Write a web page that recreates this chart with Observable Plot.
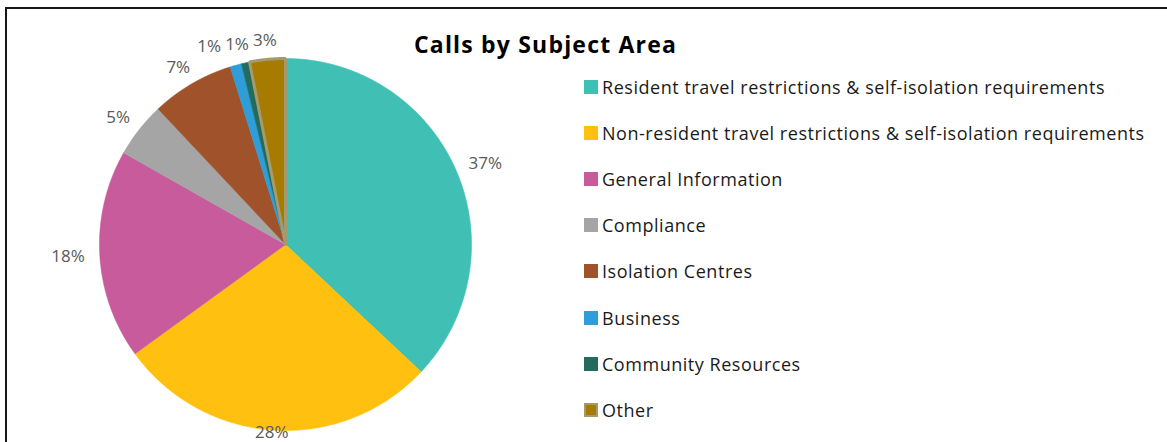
<!DOCTYPE html>
<html><head><meta charset="utf-8">
<script src="https://cdn.jsdelivr.net/npm/d3@7"></script>
<script src="https://cdn.jsdelivr.net/npm/@observablehq/plot@0.6"></script>
<style>
body{margin:0;background:#fff;}
#wrap{position:relative;width:1167px;height:442px;overflow:hidden;font-family:"Open Sans",sans-serif;background:#fff;}
#frame{position:absolute;left:5px;top:7px;width:1200px;height:500px;border-top:2px solid #161616;border-left:2px solid #161616;pointer-events:none;}
#title{position:absolute;left:414px;top:33px;font-weight:bold;font-size:23px;color:#000;white-space:nowrap;line-height:1;}
#legend{position:absolute;left:0;top:0;}
.row{position:absolute;display:flex;align-items:center;white-space:nowrap;font-size:18px;color:#1a1a1a;line-height:1;}
.sw{width:14px;height:14px;margin-right:4px;box-sizing:border-box;flex:none;}
#chart{position:absolute;left:0;top:0;}
</style>
</head><body>
<div id="wrap"><div id="chart"></div><div id="title">Calls by Subject Area</div><div id="legend"></div><div id="frame"></div></div>
<script>
const categories = [
  "Resident travel restrictions & self-isolation requirements",
  "Non-resident travel restrictions & self-isolation requirements",
  "General Information",
  "Compliance",
  "Isolation Centres",
  "Business",
  "Community Resources",
  "Other"
];
const shares = [37.0, 28.0, 18.2, 4.8, 7.2, 1.0, 0.7, 3.1];
const shareLabels = ["37%", "28%", "18%", "5%", "7%", "1%", "1%", "3%"];
const colors = ["#40BFB4", "#FFC010", "#C75B9B", "#A5A5A5", "#A0522A", "#2E9DD9", "#236B5E", "#A77B00"];
const otherBorder = "#A39A70";

const W = 1167, H = 442;
const cx = 285, cy = 244, R = 186;

// slices from d3.pie
const arcs = d3.pie().sort(null).value(d => d)(shares);
const slicePts = [];
arcs.forEach((a, i) => {
  const n = Math.max(4, Math.ceil((a.endAngle - a.startAngle) / 0.005));
  slicePts.push({cat: categories[i], x: 0, y: 0});
  for (let k = 0; k <= n; k++) {
    const t = a.startAngle + (a.endAngle - a.startAngle) * k / n;
    slicePts.push({cat: categories[i], x: Math.sin(t), y: Math.cos(t)});
  }
  slicePts.push({cat: categories[i], x: 0, y: 0});
});
const otherPts = slicePts.filter(d => d.cat === "Other");

// labels
const labelSize = 17;
const ctx = document.createElement("canvas").getContext("2d");
ctx.font = labelSize + "px 'Open Sans'";
const off = 15, lh = 8, gap = 4;
const labs = arcs.map((a, i) => {
  const m = (a.startAngle + a.endAngle) / 2;
  const w = ctx.measureText(shareLabels[i]).width;
  const ax = cx + (R + off) * Math.sin(m), ay = cy - (R + off) * Math.cos(m);
  return {i, m, w, px: ax + w / 2 * Math.sin(m), py: ay - lh / 2 * Math.cos(m), text: shareLabels[i]};
});
// resolve overlaps among the top labels (spread leftwards)
const topLabs = labs.filter(d => Math.cos(d.m) > 0.75).sort((a, b) => b.px - a.px);
for (let k = 1; k < topLabs.length; k++) {
  const lim = topLabs[k - 1].px - (topLabs[k - 1].w / 2 + topLabs[k].w / 2 + gap);
  if (topLabs[k].px > lim) topLabs[k].px = lim;
}
labs.forEach(d => { d.py = Math.min(d.py, H - 10); d.x = (d.px - cx) / R; d.y = (cy - d.py) / R; });

const plot = Plot.plot({
  width: W, height: H,
  margin: 0,
  style: {background: "transparent", overflow: "visible"},
  x: {type: "linear", domain: [-1, 1], range: [cx - R, cx + R], axis: null},
  y: {type: "linear", domain: [-1, 1], range: [cy + R, cy - R], axis: null},
  color: {domain: categories, range: colors},
  marks: [
    Plot.line(slicePts, {x: "x", y: "y", z: "cat", fill: "cat", stroke: "cat", strokeWidth: 0.6, curve: "linear"}),
    Plot.line(otherPts, {x: "x", y: "y", stroke: otherBorder, strokeWidth: 3, strokeLinejoin: "miter", fill: "none"}),
    Plot.text(labs, {x: "x", y: "y", text: "text", fill: "#595959", fontSize: labelSize, fontFamily: "Open Sans", textAnchor: "middle", lineAnchor: "middle"})
  ]
});
document.getElementById("chart").appendChild(plot);

// title width fit
const title = document.getElementById("title");
ctx.font = "bold 23px 'Open Sans'";
const tw = ctx.measureText(title.textContent).width;
title.style.letterSpacing = ((263 - tw) / title.textContent.length) + "px";

// legend
const leg = document.getElementById("legend");
ctx.font = "18px 'Open Sans'";
const lw = ctx.measureText(categories[0]).width;
const ls = (503 - lw) / categories[0].length;
const rowTop = 87, rowStep = 46.1;
categories.forEach((c, i) => {
  const r = document.createElement("div");
  r.className = "row";
  r.style.left = "584px";
  r.style.top = (rowTop + i * rowStep - 9) + "px";
  r.style.height = "18px";
  r.style.letterSpacing = ls + "px";
  const s = document.createElement("div");
  s.className = "sw";
  s.style.background = colors[i];
  if (c === "Other") s.style.border = "2px solid " + otherBorder;
  r.appendChild(s);
  const t = document.createElement("span");
  t.textContent = c;
  r.appendChild(t);
  leg.appendChild(r);
});
</script>
</body></html>
